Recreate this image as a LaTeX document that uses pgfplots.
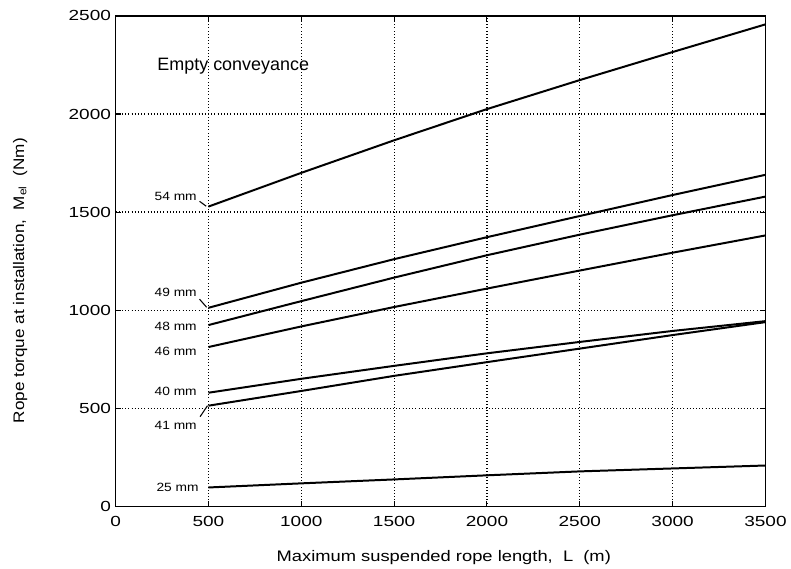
\documentclass[border=0pt]{standalone}
\usepackage{fontspec}
\setmainfont{Liberation Sans}
\usepackage{pgfplots}
\pgfplotsset{compat=1.18}
\newcommand{\sx}[2][1.25]{\scalebox{#1}[1]{#2}}
\tikzset{curve/.style={black, solid, line width=1.5pt, mark=none}}
\begin{document}
\begin{tikzpicture}
\begin{axis}[
  scale only axis, width=489pt, height=369pt,
  xmin=0, xmax=3500, ymin=0, ymax=2500,
  xtick={0,500,...,3500}, ytick={0,500,...,2500},
  grid=major, major grid style={black, dotted, line width=0.9pt},
  tick align=inside, tick pos=both, major tick length=4pt,
  axis line style={black, line width=1.1pt},
  tick style={black, line width=0.8pt},
  /pgf/number format/assume math mode=true,
  /pgf/number format/1000 sep={},
  ticklabel style={font=\fontsize{11}{12}\selectfont},
  xticklabel={\sx[1.3]{\pgfmathprintnumber{\tick}}},
  yticklabel={\sx[1.3]{\pgfmathprintnumber{\tick}}},
  xticklabel style={yshift=-4pt},
  xlabel={\sx[1.2]{Maximum suspended rope length,\ \ L\ \ (m)}},
  ylabel={\sx[1.12]{Rope torque at installation,\ \ M\textsubscript{el}\ \ (Nm)}},
  label style={font=\fontsize{11.5}{13}\selectfont},
  xlabel style={at={(axis description cs:0.505,-0.104)}, anchor=center},
  ylabel style={at={(axis description cs:-0.147,0.46)}, anchor=center},
  clip=false,
]
% 54 mm
\addplot[curve] coordinates {(500,1528) (1000,1700) (1500,1866) (2000,2025) (2500,2173) (3000,2316) (3500,2457)};
% 49 mm
\addplot[curve] coordinates {(500,1012) (1000,1140) (1500,1260) (2000,1372) (2500,1480) (3000,1587) (3500,1690)};
% 48 mm
\addplot[curve] coordinates {(500,924) (1000,1046) (1500,1166) (2000,1280) (2500,1385) (3000,1484) (3500,1579)};
% 46 mm
\addplot[curve] coordinates {(500,812) (1000,917) (1500,1016) (2000,1110) (2500,1202) (3000,1293) (3500,1381)};
% 40 mm
\addplot[curve] coordinates {(500,579) (1000,650) (1500,716) (2000,780) (2500,838) (3000,894) (3500,944)};
% 41 mm
\addplot[curve] coordinates {(500,513) (1000,588) (1500,665) (2000,735) (2500,804) (3000,873) (3500,939)};
% 25 mm
\addplot[curve] coordinates {(500,96) (1000,117) (1500,137) (2000,158) (2500,178) (3000,193) (3500,208)};
% leader lines
\addplot[black, line width=0.8pt, mark=none] coordinates {(452,1555) (488,1530)};
\addplot[black, line width=0.8pt, mark=none] coordinates {(452,1056) (490,1015)};
\addplot[black, line width=0.8pt, mark=none] coordinates {(455,457) (495,513)};
% labels
\begin{scope}[every node/.style={font=\fontsize{9}{10}\selectfont}]
\node[anchor=east] at (axis cs:462,1579) {\sx[1.15]{54 mm}};
\node[anchor=east] at (axis cs:462,1091) {\sx[1.15]{49 mm}};
\node[anchor=east] at (axis cs:462,919) {\sx[1.15]{48 mm}};
\node[anchor=east] at (axis cs:462,792) {\sx[1.15]{46 mm}};
\node[anchor=east] at (axis cs:462,584) {\sx[1.15]{40 mm}};
\node[anchor=east] at (axis cs:462,411) {\sx[1.15]{41 mm}};
\node[anchor=east] at (axis cs:472,96) {\sx[1.15]{25 mm}};
\end{scope}
\node[anchor=west, font=\fontsize{13.5}{15}\selectfont] at (axis cs:200,2245) {Empty conveyance};
\end{axis}
\path[use as bounding box] (-87pt,-47pt) rectangle (506pt,381pt);
\end{tikzpicture}
\end{document}
